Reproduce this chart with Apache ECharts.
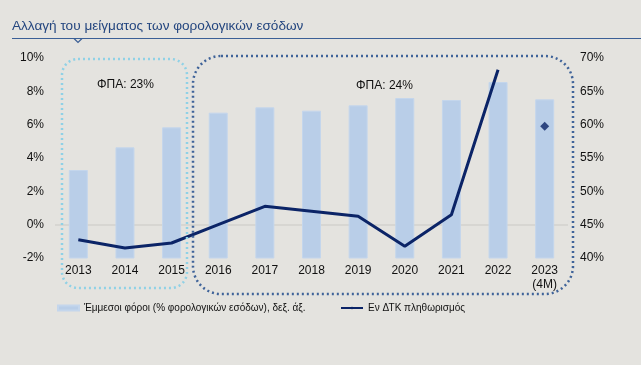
<!DOCTYPE html>
<html>
<head>
<meta charset="utf-8">
<script src="https://cdn.jsdelivr.net/npm/echarts@6/dist/echarts.min.js"></script>
<style>
html,body{margin:0;padding:0;background:#e4e3df;}
#c{width:641px;height:365px;}
</style>
</head>
<body>
<div id="c"></div>
<script>
const categories = ['2013','2014','2015','2016','2017','2018','2019','2020','2021','2022','2023\n(4M)'];
const indirectTaxShare = [53.2, 56.6, 59.6, 61.8, 62.6, 62.1, 62.9, 64.0, 63.7, 66.4, 63.8];
const hicpInflation = [-0.9, -1.4, -1.1, 0.0, 1.1, 0.8, 0.5, -1.3, 0.6, 9.3, null];
const hicp2023 = [null, null, null, null, null, null, null, null, null, null, 5.9];
const leftTicks = {min: -2, max: 10, interval: 2};
const rightTicks = {min: 40, max: 70, interval: 5};
const barName = 'Έμμεσοι φόροι (% φορολογικών εσόδων), δεξ. άξ.';
const lineName = 'Εν ΔΤΚ πληθωρισμός';

const chart = echarts.init(document.getElementById('c'));
const font = 'Liberation Sans, Arial, sans-serif';
chart.setOption({
  backgroundColor: '#e4e3df',
  animation: false,
  textStyle: {fontFamily: font},
  title: {
    text: 'Αλλαγή του μείγματος των φορολογικών εσόδων',
    left: 7, top: 14,
    textStyle: {fontFamily: font, fontSize: 13.6, fontWeight: 'normal', color: '#24467f'}
  },
  legend: [
    {data: [barName], left: 52, top: 298, itemWidth: 21, itemHeight: 5, icon: 'rect',
     textStyle: {fontFamily: font, fontSize: 10, color: '#111'}, itemGap: 4},
    {data: [lineName], left: 335, top: 298, itemWidth: 22, itemHeight: 3,
     textStyle: {fontFamily: font, fontSize: 10, color: '#111'}}
  ],
  grid: {left: 55, right: 73, top: 58, bottom: 107, containLabel: false},
  xAxis: {
    type: 'category', data: categories,
    axisLine: {show: false}, axisTick: {show: false},
    axisLabel: {color: '#111', fontSize: 12, margin: 6, lineHeight: 14, fontFamily: font}
  },
  yAxis: [
    {type: 'value', min: leftTicks.min, max: leftTicks.max, interval: leftTicks.interval,
     axisLabel: {formatter: '{value}%', color: '#111', fontSize: 12, margin: 11, fontFamily: font},
     splitLine: {show: false}, axisLine: {show: false}, axisTick: {show: false}},
    {type: 'value', min: rightTicks.min, max: rightTicks.max, interval: rightTicks.interval,
     axisLabel: {formatter: '{value}%', color: '#111', fontSize: 12, margin: 12, fontFamily: font},
     splitLine: {show: false}, axisLine: {show: false}, axisTick: {show: false}}
  ],
  series: [
    {name: barName, type: 'bar', yAxisIndex: 1, data: indirectTaxShare, barWidth: 19,
     itemStyle: {color: '#b9cee8', borderColor: '#c4d6ec', borderWidth: 1}, z: 1},
    {name: lineName, type: 'line', yAxisIndex: 0, data: hicpInflation, showSymbol: false,
     symbol: 'none', lineStyle: {color: '#0b2467', width: 3}, itemStyle: {color: '#0b2467'}, z: 3,
     markLine: {silent: true, symbol: 'none', label: {show: false},
       lineStyle: {color: '#d3d2ce', width: 1.5, type: 'solid'}, data: [{yAxis: 0}], z: 0}},
    {name: 'hicp2023', type: 'scatter', yAxisIndex: 0, data: hicp2023, symbol: 'diamond',
     symbolSize: 9, itemStyle: {color: '#0b2467'}, z: 4}
  ],
  graphic: [
    {type: 'line', shape: {x1: 12, y1: 38.5, x2: 641, y2: 38.5}, style: {stroke: '#3b5f96', lineWidth: 1.2}},
    {type: 'polyline', shape: {points: [[74, 38.5], [78, 42.5], [82, 38.5]]}, style: {stroke: '#3b5f96', lineWidth: 1.2, fill: 'none'}},
    {type: 'rect', shape: {x: 62, y: 59, width: 125, height: 229, r: 16}, z: 5,
     style: {fill: 'none', stroke: '#8fd1e6', lineWidth: 2.5, lineDash: [2, 3]}},
    {type: 'rect', shape: {x: 193, y: 56, width: 380, height: 238, r: 28}, z: 5,
     style: {fill: 'none', stroke: '#3f6399', lineWidth: 2.5, lineDash: [2, 3]}},
    {type: 'text', left: 97, top: 79, style: {text: 'ΦΠΑ: 23%', font: '12px ' + font, fill: '#111'}},
    {type: 'text', left: 356, top: 80, style: {text: 'ΦΠΑ: 24%', font: '12px ' + font, fill: '#111'}}
  ]
});
</script>
</body>
</html>
